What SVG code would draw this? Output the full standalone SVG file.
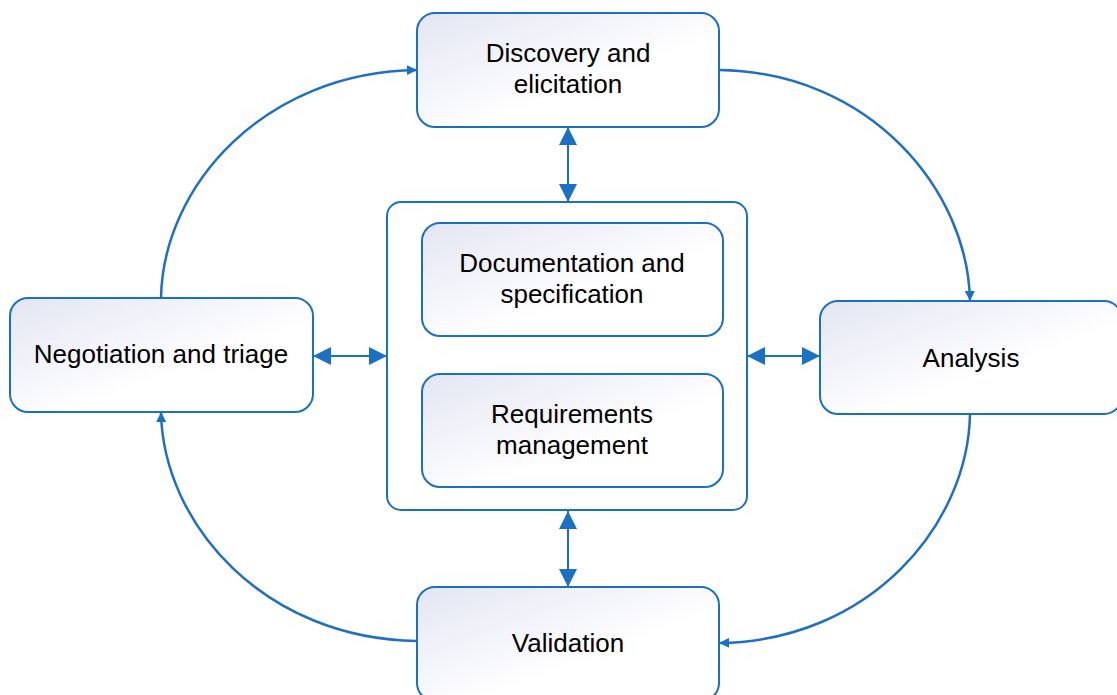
<svg xmlns="http://www.w3.org/2000/svg" width="1117" height="695" viewBox="0 0 1117 695">
<defs>
<linearGradient id="g" x1="0" y1="0" x2="1" y2="1">
<stop offset="0" stop-color="#e3e5f3"/>
<stop offset="0.6" stop-color="#ffffff"/>
<stop offset="1" stop-color="#ffffff"/>
</linearGradient>
<marker id="big" markerUnits="userSpaceOnUse" markerWidth="18" markerHeight="18" viewBox="0 0 16 16" refX="16" refY="8" orient="auto-start-reverse">
<path d="M0,0 L16,8 L0,16 Z" fill="#1a70c3"/>
</marker>
<marker id="small" markerUnits="userSpaceOnUse" markerWidth="10" markerHeight="10" viewBox="0 0 10 10" refX="10" refY="5" orient="auto">
<path d="M0,0 L10,5 L0,10 Z" fill="#1a70c3"/>
</marker>
<style>
.box{fill:url(#g);stroke:#1a70c3;stroke-width:2}
.outer{fill:#ffffff;stroke:#1a70c3;stroke-width:2}
.t{font-family:"Liberation Sans",Arial,sans-serif;font-size:26px;fill:#000;text-anchor:middle}
.curve{fill:none;stroke:#1f6fc4;stroke-width:2.5;marker-end:url(#small)}
.dbl{fill:none;stroke:#1a70c3;stroke-width:2;marker-start:url(#big);marker-end:url(#big)}
</style>
</defs>
<g id="central">
<rect class="outer" x="387" y="202" width="360" height="308" rx="14"/>
</g>
<g id="documentation">
<rect class="box" x="422" y="223" width="301" height="113" rx="18"/>
<text class="t" x="572" y="272">Documentation and</text>
<text class="t" x="572" y="303">specification</text>
</g>
<g id="requirements">
<rect class="box" x="422" y="374" width="301" height="113" rx="18"/>
<text class="t" x="572" y="423">Requirements</text>
<text class="t" x="572" y="454">management</text>
</g>
<g id="discovery">
<rect class="box" x="417" y="13" width="302" height="114" rx="18"/>
<text class="t" x="568" y="62">Discovery and</text>
<text class="t" x="568" y="93">elicitation</text>
</g>
<g id="analysis">
<rect class="box" x="820" y="301" width="302" height="113" rx="18"/>
<text class="t" x="971" y="367">Analysis</text>
</g>
<g id="validation">
<rect class="box" x="417" y="587" width="302" height="114" rx="18"/>
<text class="t" x="568" y="652">Validation</text>
</g>
<g id="negotiation">
<rect class="box" x="10" y="298" width="303" height="114" rx="18"/>
<text class="t" x="161" y="363">Negotiation and triage</text>
</g>
<g id="connectors">
<path class="curve" d="M719,70 C870,72 968,190 970,301"/>
<path class="curve" d="M970,414 C968,525 870,641 719,643"/>
<path class="curve" d="M417,641 C265,639 163,525 161,412"/>
<path class="curve" d="M161,298 C163,185 265,72 417,70"/>
<path class="dbl" d="M568,127 L568,202"/>
<path class="dbl" d="M568,511 L568,587"/>
<path class="dbl" d="M313,356 L387,356"/>
<path class="dbl" d="M747,356 L820,356"/>
</g>
</svg>
